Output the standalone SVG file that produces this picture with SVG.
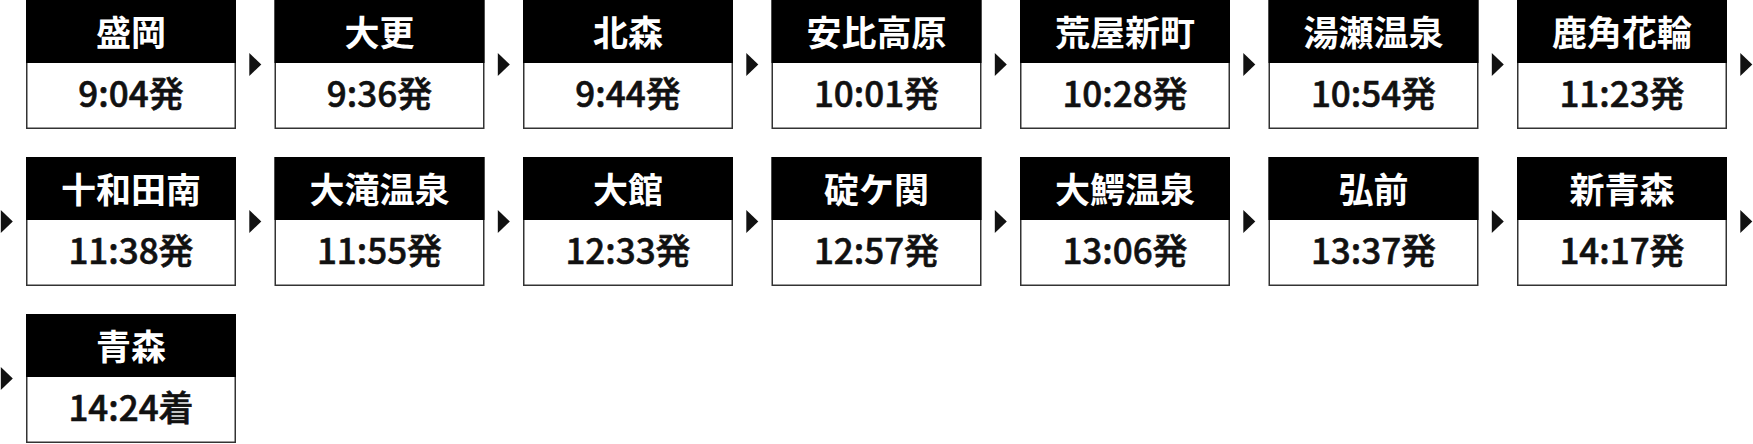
<svg xmlns="http://www.w3.org/2000/svg" xmlns:xlink="http://www.w3.org/1999/xlink" width="1753" height="444" viewBox="0 0 1753 444">
<style>
.box{fill:#fff;stroke:#333;stroke-width:1.5}
.hd{fill:#000}
.st{font-family:"Noto Sans CJK JP","Noto Sans",sans-serif;font-weight:700;font-size:35px;fill:#fff;text-anchor:middle}
.tm{font-family:"Noto Sans CJK JP","Noto Sans",sans-serif;font-weight:500;font-size:35px;fill:#111;stroke:#111;stroke-width:0.6;text-anchor:middle}
.arr{fill:#111}
</style>
<defs>
<g id="node">
<rect class="box" x="0.75" y="0.75" width="208.5" height="127.5"/>
<rect class="hd" x="0" y="0" width="210" height="63"/>
</g>
<path id="arrow" class="arr" d="M0,-11.5 L12,0 L0,11.5 Z"/>
</defs>
<rect width="1753" height="444" fill="#fff"/>
<g id="connectors">
<use xlink:href="#arrow" x="249.3" y="64.5"/>
<use xlink:href="#arrow" x="497.8" y="64.5"/>
<use xlink:href="#arrow" x="746.3" y="64.5"/>
<use xlink:href="#arrow" x="994.8" y="64.5"/>
<use xlink:href="#arrow" x="1243.3" y="64.5"/>
<use xlink:href="#arrow" x="1491.8" y="64.5"/>
<use xlink:href="#arrow" x="1740.3" y="64.5"/>
<use xlink:href="#arrow" x="0.8" y="221.5"/>
<use xlink:href="#arrow" x="249.3" y="221.5"/>
<use xlink:href="#arrow" x="497.8" y="221.5"/>
<use xlink:href="#arrow" x="746.3" y="221.5"/>
<use xlink:href="#arrow" x="994.8" y="221.5"/>
<use xlink:href="#arrow" x="1243.3" y="221.5"/>
<use xlink:href="#arrow" x="1491.8" y="221.5"/>
<use xlink:href="#arrow" x="1740.3" y="221.5"/>
<use xlink:href="#arrow" x="0.8" y="378.5"/>
</g>
<g id="n1" transform="translate(26,0)"><use xlink:href="#node"/><text class="st" x="105" y="45.5">盛岡</text><text class="tm" x="105" y="106.5">9:04発</text></g>
<g id="n2" transform="translate(274.5,0)"><use xlink:href="#node"/><text class="st" x="105" y="45.5">大更</text><text class="tm" x="105" y="106.5">9:36発</text></g>
<g id="n3" transform="translate(523,0)"><use xlink:href="#node"/><text class="st" x="105" y="45.5">北森</text><text class="tm" x="105" y="106.5">9:44発</text></g>
<g id="n4" transform="translate(771.5,0)"><use xlink:href="#node"/><text class="st" x="105" y="45.5">安比高原</text><text class="tm" x="105" y="106.5">10:01発</text></g>
<g id="n5" transform="translate(1020,0)"><use xlink:href="#node"/><text class="st" x="105" y="45.5">荒屋新町</text><text class="tm" x="105" y="106.5">10:28発</text></g>
<g id="n6" transform="translate(1268.5,0)"><use xlink:href="#node"/><text class="st" x="105" y="45.5">湯瀬温泉</text><text class="tm" x="105" y="106.5">10:54発</text></g>
<g id="n7" transform="translate(1517,0)"><use xlink:href="#node"/><text class="st" x="105" y="45.5">鹿角花輪</text><text class="tm" x="105" y="106.5">11:23発</text></g>
<g id="n8" transform="translate(26,157)"><use xlink:href="#node"/><text class="st" x="105" y="45.5">十和田南</text><text class="tm" x="105" y="106.5">11:38発</text></g>
<g id="n9" transform="translate(274.5,157)"><use xlink:href="#node"/><text class="st" x="105" y="45.5">大滝温泉</text><text class="tm" x="105" y="106.5">11:55発</text></g>
<g id="n10" transform="translate(523,157)"><use xlink:href="#node"/><text class="st" x="105" y="45.5">大館</text><text class="tm" x="105" y="106.5">12:33発</text></g>
<g id="n11" transform="translate(771.5,157)"><use xlink:href="#node"/><text class="st" x="105" y="45.5">碇ケ関</text><text class="tm" x="105" y="106.5">12:57発</text></g>
<g id="n12" transform="translate(1020,157)"><use xlink:href="#node"/><text class="st" x="105" y="45.5">大鰐温泉</text><text class="tm" x="105" y="106.5">13:06発</text></g>
<g id="n13" transform="translate(1268.5,157)"><use xlink:href="#node"/><text class="st" x="105" y="45.5">弘前</text><text class="tm" x="105" y="106.5">13:37発</text></g>
<g id="n14" transform="translate(1517,157)"><use xlink:href="#node"/><text class="st" x="105" y="45.5">新青森</text><text class="tm" x="105" y="106.5">14:17発</text></g>
<g id="n15" transform="translate(26,314)"><use xlink:href="#node"/><text class="st" x="105" y="45.5">青森</text><text class="tm" x="105" y="106.5">14:24着</text></g>
</svg>
